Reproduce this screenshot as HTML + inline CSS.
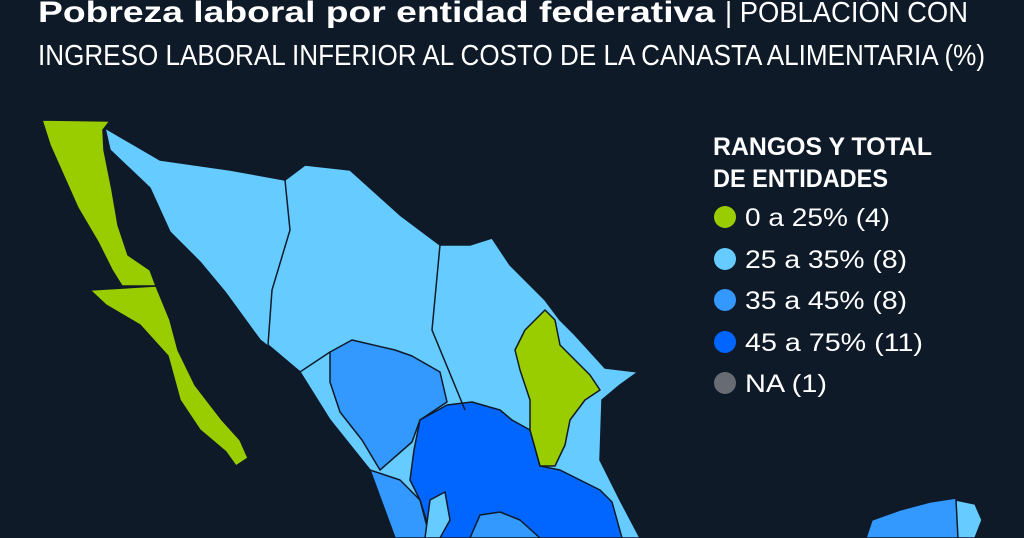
<!DOCTYPE html>
<html><head><meta charset="utf-8"><style>
html,body{margin:0;padding:0;background:#0f1a29;}
svg{display:block;}
text{font-family:"Liberation Sans",sans-serif;fill:#fff;}
</style></head><body>
<svg width="1024" height="538" viewBox="0 0 1024 538">
<rect width="1024" height="538" fill="#0f1a29"/>
<text x="38" y="22" font-size="30" font-weight="bold" textLength="677" lengthAdjust="spacingAndGlyphs">Pobreza laboral por entidad federativa</text>
<text x="725" y="22" font-size="29" textLength="243" lengthAdjust="spacingAndGlyphs">| POBLACIÓN CON</text>
<text x="38" y="65" font-size="29" textLength="947" lengthAdjust="spacingAndGlyphs">INGRESO LABORAL INFERIOR AL COSTO DE LA CANASTA ALIMENTARIA (%)</text>

<g stroke="#0f1a29" stroke-width="1.5" stroke-linejoin="round">
<!-- mainland light -->
<polygon fill="#66ccff" points="105,128 160,160 230,170 285,180 305,165 350,170 400,215 440,245 470,245 492,238 510,265 545,300 560,320 575,335 605,368 638,372 620,385 602,400 600,460 620,500 640,538 395,538 370,470 330,420 300,372 260,340 225,292 200,262 170,232 150,188 110,150"/>
<!-- Durango -->
<polygon fill="#3399ff" points="330,352 352,340 395,350 412,356 440,372 447,402 420,420 412,442 380,470 362,440 340,412 330,382"/>
<!-- Sinaloa lower -->
<polygon fill="#3399ff" points="370,470 400,480 420,500 430,538 395,538"/>
<!-- central dark -->
<polygon fill="#0066ff" points="420,420 447,405 472,402 500,410 512,420 530,430 540,466 560,470 600,490 612,502 622,538 432,538 420,500 410,480 414,450"/>
<polygon fill="#3399ff" points="470,538 480,515 500,512 520,520 540,538"/>
<polygon fill="#66ccff" points="425,538 430,500 445,492 450,520 440,538"/>
<!-- NL green -->
<polygon fill="#9acd00" points="525,330 545,310 555,320 560,345 575,360 590,375 600,390 585,400 570,420 565,445 555,466 540,466 530,430 530,400 520,370 515,350"/>
<!-- Baja California -->
<polygon fill="#9acd00" points="42,120 110,121 103,130 104,150 112,190 118,225 128,255 150,270 156,286 122,286 112,270 98,242 78,208 62,172 50,145"/>
<!-- BCS -->
<polygon fill="#9acd00" points="90,290 156,286 170,320 178,350 195,385 222,420 240,440 248,458 236,466 226,452 200,430 180,400 168,356 140,325 106,305"/>
<!-- Yucatan -->
<polygon fill="#3399ff" points="866,538 872,520 900,510 930,502 956,498 960,538"/>
<polygon fill="#66ccff" points="958,538 956,500 975,504 982,520 975,538"/>
</g>
<g fill="none" stroke="#0f1a29" stroke-width="1.5">
<polyline points="285,180 290,230 272,290 268,345"/>
<polyline points="440,245 432,330 465,410"/>
<polyline points="268,345 300,372 330,352"/>
</g>

<text x="713" y="155" font-size="25" font-weight="bold" textLength="219" lengthAdjust="spacingAndGlyphs">RANGOS Y TOTAL</text>
<text x="713" y="187" font-size="25" font-weight="bold" textLength="175" lengthAdjust="spacingAndGlyphs">DE ENTIDADES</text>
<circle cx="725" cy="217" r="11" fill="#9acd00"/>
<circle cx="725" cy="259" r="11" fill="#66ccff"/>
<circle cx="725" cy="300" r="11" fill="#3399ff"/>
<circle cx="725" cy="342" r="11" fill="#0066ff"/>
<circle cx="725" cy="383" r="11" fill="#676b73"/>
<text x="745" y="226" font-size="25" textLength="145" lengthAdjust="spacingAndGlyphs">0 a 25% (4)</text>
<text x="745" y="268" font-size="25" textLength="162" lengthAdjust="spacingAndGlyphs">25 a 35% (8)</text>
<text x="745" y="309" font-size="25" textLength="162" lengthAdjust="spacingAndGlyphs">35 a 45% (8)</text>
<text x="745" y="351" font-size="25" textLength="178" lengthAdjust="spacingAndGlyphs">45 a 75% (11)</text>
<text x="745" y="392" font-size="25" textLength="82" lengthAdjust="spacingAndGlyphs">NA (1)</text>
</svg>
</body></html>
